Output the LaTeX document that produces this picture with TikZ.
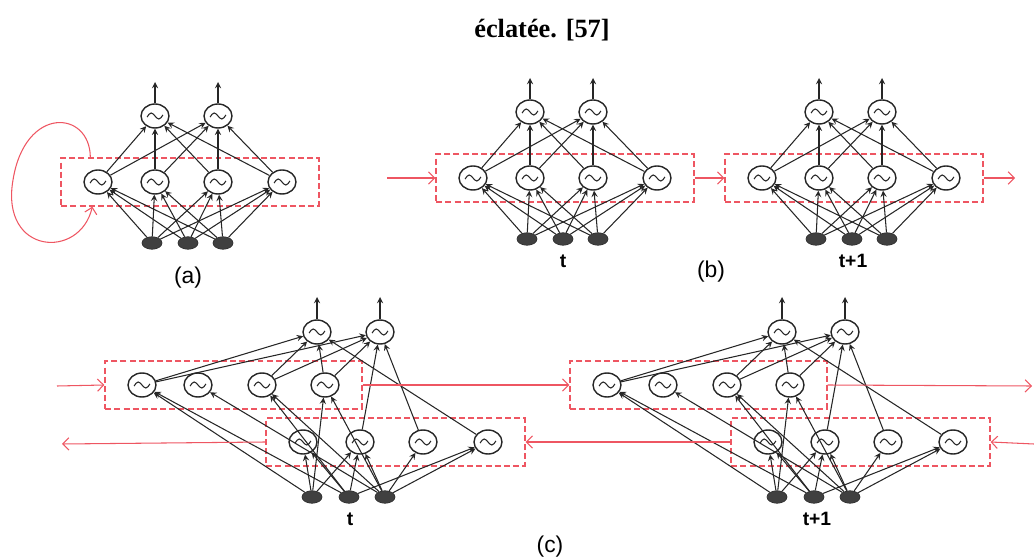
\documentclass[tikz,border=0pt]{standalone}
\usepackage{fontspec}
\setmainfont{Liberation Serif}
\setsansfont{Liberation Sans}
\usetikzlibrary{shapes, arrows, arrows.meta, fit}

\definecolor{loopred}{RGB}{238,86,98}

% simple recurrent net: 3 inputs, 4 hidden (boxed), 2 outputs
\newcommand{\rnnpanel}[3]{%
	\foreach \i/\dx in {1/0, 2/57, 3/120, 4/184}
		\node[neuron] (#1-h\i) at (#2+\dx,#3) {};
	\foreach \i/\dx in {1/57, 2/120}
		\node[neuron] (#1-o\i) at (#2+\dx,#3-66) {};
	\foreach \i/\dx in {1/54, 2/90, 3/125}
		\node[unit] (#1-i\i) at (#2+\dx,#3+61) {};
	\node[layer, fit=(#1-h1)(#1-h4)] (#1-box) {};
	\foreach \h in {1,...,4} {
		\foreach \o in {1,2} \draw[link] (#1-h\h) -- (#1-o\o);
		\foreach \u in {1,2,3} \draw[link] (#1-i\u) -- (#1-h\h);
	}
	\foreach \o in {1,2} {
		\path (#1-o\o) ++(0,-34) coordinate (#1-y\o);
		\draw[link] (#1-o\o) -- (#1-y\o);
	}
}

% bidirectional version: forward row on top, backward row below
\newcommand{\birnnpanel}[3]{%
	\foreach \i/\dx in {1/0, 2/56, 3/120, 4/183}
		\node[neuron] (#1-u\i) at (#2+\dx,#3) {};
	\foreach \i/\dx in {1/161, 2/218, 3/281, 4/346}
		\node[neuron] (#1-l\i) at (#2+\dx,#3+57) {};
	\foreach \i/\dx in {1/175, 2/238}
		\node[neuron] (#1-o\i) at (#2+\dx,#3-53) {};
	\foreach \i/\dx in {1/170, 2/207, 3/243}
		\node[unit] (#1-i\i) at (#2+\dx,#3+112) {};
	\node[layer, fit=(#1-u1)(#1-u4)] (#1-top) {};
	\node[layer, fit=(#1-l1)(#1-l4)] (#1-bot) {};
	\foreach \h in {u1,u3,u4,l4} \draw[link] (#1-\h) -- (#1-o1);
	\foreach \h in {u1,u3,u4,l2,l3} \draw[link] (#1-\h) -- (#1-o2);
	\foreach \s/\t in {i1/u1, i2/u1, i3/u2, i2/u3, i3/u3, i1/u4, i3/u4,
		i1/l1, i2/l1, i1/l2, i2/l2, i3/l2, i3/l3, i2/l4, i3/l4}
		\draw[link] (#1-\s) -- (#1-\t);
	\foreach \o in {1,2} {
		\path (#1-o\o) ++(0,-35) coordinate (#1-y\o);
		\draw[link] (#1-o\o) -- (#1-y\o);
	}
}

\begin{document}
\begin{tikzpicture}[
	x=0.02cm, y=-0.02cm,
	neuron/.style={ellipse, draw=black!85, thick, fill=white, inner sep=0pt,
		minimum width=0.56cm, minimum height=0.48cm,
		path picture={\draw[shift={(path picture bounding box.center)}, semithick]
			(-4.5pt,-0.6pt) sin (-2.2pt,1.7pt) cos (0pt,0pt) sin (2.2pt,-1.7pt) cos (4.5pt,0.6pt);}},
	unit/.style={ellipse, draw=black!80, fill=black!75, inner sep=0pt,
		minimum width=0.4cm, minimum height=0.25cm},
	layer/.style={draw=loopred, line width=1.1pt, dash pattern=on 3.4pt off 1.8pt,
		inner xsep=0.44cm, inner ysep=0.22cm},
	link/.style={-stealth, black!85, line width=0.6pt},
	flow/.style={-{Straight Barb[length=3.5pt, width=7pt]}, loopred, line width=0.6pt},
	caption/.style={font=\sffamily\fontsize{13}{15}\selectfont},
	stamp/.style={font=\sffamily\bfseries\fontsize{11}{13}\selectfont}
	]
	\useasboundingbox (0,0) rectangle (1034,560);
	
	\node[font=\bfseries\fontsize{15}{18}\selectfont] (title) at (542,30) {éclatée. [57]};
	
	% (a) folded net with its loop
	\rnnpanel{a}{98}{182}
	\path ([xshift=0.6cm]a-box.north west) coordinate (a-from);
	\path ([xshift=0.64cm]a-box.south west) coordinate (a-to);
	\draw[flow] (a-from) .. controls (90,110) and (25,105) .. (13,180)
		.. controls (0,255) and (80,260) .. (a-to);
	\node[caption] (a-cap) at (188,278) {(a)};
	
	% (b) unrolled in time
	\rnnpanel{b1}{473}{178}
	\rnnpanel{b2}{762}{178}
	\coordinate (b-in) at (387,178);
	\coordinate (b-out) at (1015,178);
	\draw[flow] (b-in) -- (b1-box.west);
	\draw[flow] (b1-box.east) -- (b2-box.west);
	\draw[flow] (b2-box.east) -- (b-out);
	\node[stamp] (b1-t) at (563,261) {t};
	\node[stamp] (b2-t) at (853,261) {t+1};
	\node[caption] (b-cap) at (711,272) {(b)};
	
	% (c) bidirectional, unrolled
	\birnnpanel{c1}{142}{385}
	\birnnpanel{c2}{607}{385}
	\coordinate (c-in) at (57,386);
	\coordinate (c-out) at (1032,386);
	\coordinate (c-back) at (62,444);
	\coordinate (c-end) at (1034,444);
	\draw[flow] (c-in) -- (c1-top.west);
	\draw[flow] (c1-top.east) -- (c2-top.west);
	\draw[flow] (c2-top.east) -- (c-out);
	\draw[flow] (c-end) -- (c2-bot.east);
	\draw[flow] (c2-bot.west) -- (c1-bot.east);
	\draw[flow] (c1-bot.west) -- (c-back);
	\node[stamp] (c1-t) at (350,519) {t};
	\node[stamp] (c2-t) at (817,519) {t+1};
	\node[caption] (c-cap) at (550,547) {(c)};
	
\end{tikzpicture}
\end{document}
